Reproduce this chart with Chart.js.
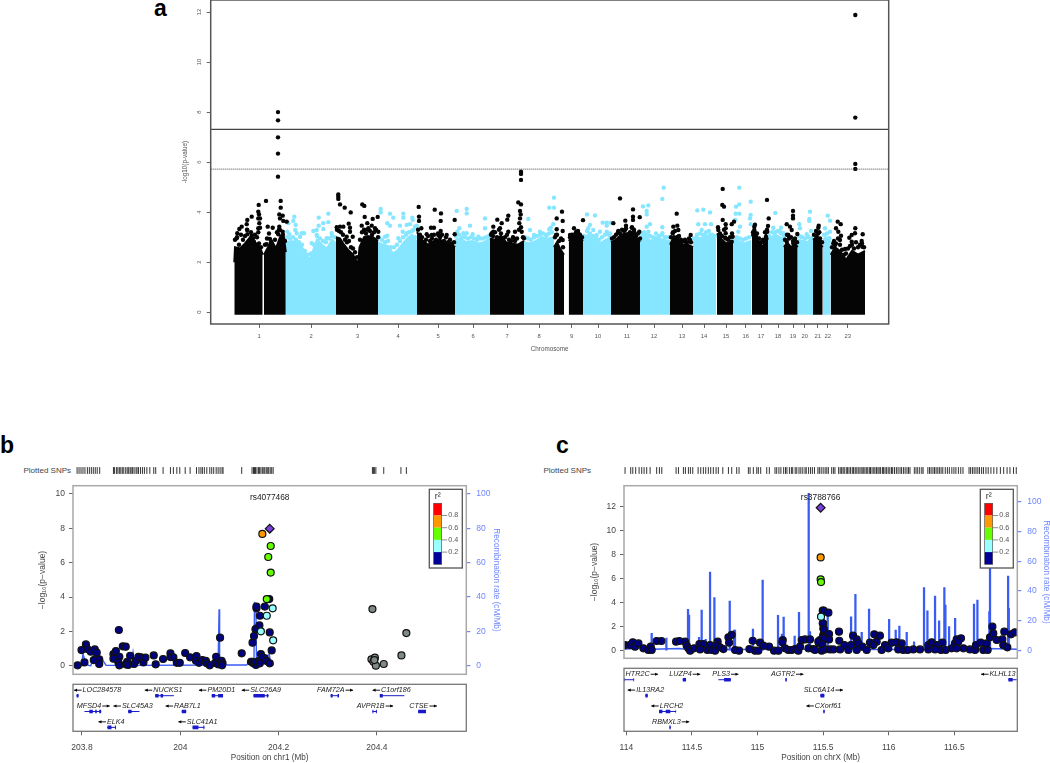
<!DOCTYPE html>
<html>
<head>
<meta charset="utf-8">
<title>Manhattan and regional association plots</title>
<script src="https://cdn.jsdelivr.net/npm/chart.js@4"></script>
<style>
html, body { margin: 0; padding: 0; background: #fff; }
body { position: relative; width: 1050px; height: 763px; overflow: hidden; font-family: "Liberation Sans", Arial, sans-serif; }
canvas { position: absolute; left: 0; top: 0; }
.letter { position: absolute; font-weight: bold; font-size: 23px; line-height: 23px; color: #000; }
.rug { position: absolute; font-size: 8px; line-height: 10px; color: #444; white-space: nowrap; }
</style>
</head>
<body>
<div class="letter" style="left:154px;top:-3px">a</div>
<div class="letter" style="left:0px;top:434px">b</div>
<div class="letter" style="left:556px;top:434px">c</div>
<div class="rug" style="right:979px;top:466px">Plotted SNPs</div>
<div class="rug" style="right:459px;top:466px">Plotted SNPs</div>
<script>
// ---- panel a: genome wide scan. x is the position along the genome axis
const chrLabels = ['1','2','3','4','5','6','7','8','9','10','11','12','13','14','15','16','17','18','19','20','21','22','23'];
const chrTicks = [49,101,147.7,188,228,263,297,329,361.7,388,417,444,472,494,516,535.7,551,568,583,594.7,607.7,617.7,637.7];
const manhattanYTicks = [0,2,4,6,8,10,12];
const genomeSigLine = 7.31;
const suggestiveLine = 5.72;

// top edge of the solid mass of SNPs, one block per chromosome (null breaks the block)
const blackEnvX = [24.3,25,30,35,40,45,50,52.7,53,54,58,62,66,70,74,75.8,76,
  126,130,134,138,143,147,148,149.5,154,158,163,168,168,
  207,212,218,224,230,236,241,245,245,
  280,285,291,296,302,308,314,314,
  344,347,350,354,354,
  358.7,362,367,373,373,
  401,406,411,416,421,426,430,430,
  460,464,468,473,478,483,483,
  507,511,516,520,523,523,
  542,545,549,553,556,558,558,
  574,577,581,585,587.7,587.7,
  603,606,610,612.7,612.7,
  620.7,625,630,636,642,648,655];
const blackEnvY = [2.0,2.6,2.55,2.75,3.0,2.8,2.6,2.3,null,2.3,2.6,2.85,2.55,3.0,3.0,2.4,null,
  3.0,2.95,2.7,2.5,2.3,2.0,1.9,2.6,3.0,3.05,3.0,2.85,null,
  3.2,2.9,2.7,2.85,2.9,2.8,2.75,2.6,null,
  2.95,2.9,3.05,2.8,2.75,2.7,2.85,null,
  2.6,2.8,2.55,2.3,null,
  2.85,3.0,3.1,2.85,null,
  2.8,2.9,3.1,3.15,3.2,3.0,2.8,null,
  2.7,3.05,2.9,2.7,2.7,2.6,null,
  3.15,2.95,2.75,2.8,2.75,null,
  3.05,3.3,2.8,2.6,3.1,2.9,null,
  2.6,2.8,2.6,2.75,2.6,null,
  2.9,3.0,2.75,2.6,null,
  2.3,2.6,2.45,2.1,2.45,2.3,2.45];
const lightEnvX = [76,82,87,92,96,100,103,107,112,117,122,126,126,
  168,173,178,183,188,192,197,202,207,207,
  245,250,256,262,268,274,280,280,
  314,320,326,332,338,344,344,
  373,378,384,390,396,401,401,
  430,435,441,447,453,460,460,
  483,488,494,500,506,506,
  523,528,534,541,541,
  558,563,568,574,574,
  588,593,598,603,603,
  613,616,620.7];
const lightEnvY = [2.8,2.85,2.75,2.6,2.3,2.1,2.45,2.9,2.7,2.55,2.9,2.75,null,
  2.8,2.7,2.65,2.35,2.5,2.7,2.95,3.1,2.8,null,
  2.9,2.95,2.8,2.85,2.75,2.8,2.95,null,
  2.8,2.75,2.85,3.0,2.95,3.0,null,
  2.9,3.1,2.9,2.75,2.9,3.0,null,
  3.0,3.05,2.85,3.0,2.9,2.85,null,
  2.8,2.95,3.0,3.1,2.9,null,
  2.7,2.85,2.75,2.85,null,
  2.9,3.05,3.05,2.9,null,
  2.9,2.85,2.8,3.1,null,
  2.9,3.0,2.8];

// SNPs on the rough top of the mass
const blackFringeX = [25,27,29,31,33,35,37,39,41,43,45,47,49,51,55,57,59,61,63,65,67,69,71,73,75,
  127,129,131,133,135,137,139,141,143,145,147,150,152,154,156,158,160,162,164,166,168,
  208,210,212,214,216,218,220,222,224,226,228,230,232,234,236,238,240,242,244,
  281,283,285,287,289,291,293,295,297,299,301,303,305,307,309,311,313,
  345,347,349,351,353,360,362,364,366,368,370,372,
  402,404,406,408,410,412,414,416,418,420,422,424,426,428,430,
  461,463,465,467,469,471,473,475,477,479,481,
  508,510,512,514,516,518,520,522,
  543,545,547,549,551,553,555,557,
  575,577,579,581,583,585,587,
  604,606,608,610,612,
  622,624,626,628,630,632,634,636,638,640,642,644,646,648,650,652,654];
const blackFringeY = [2.9,3.0,2.7,3.1,2.9,3.05,3.3,2.8,3.2,2.95,3.1,3.0,2.75,2.6,2.7,2.95,3.15,2.8,2.6,2.9,3.2,3.3,2.9,3.1,2.85,
  3.3,3.25,3.2,3.1,2.9,2.8,2.85,2.6,2.55,2.4,2.2,2.9,3.2,3.3,3.15,3.3,3.25,3.1,3.2,3.3,3.0,
  3.3,3.1,3.0,2.8,2.9,3.05,2.85,2.95,3.1,2.9,3.15,3.0,3.1,2.85,3.0,2.8,2.9,2.75,2.8,
  3.1,3.05,3.2,3.0,3.3,3.15,2.95,3.0,3.1,2.9,2.85,3.0,2.85,2.95,3.3,3.4,3.0,
  3.0,3.1,2.85,2.95,2.6,3.0,3.1,3.05,3.2,3.25,3.1,3.0,
  2.95,3.0,3.1,3.2,3.15,3.3,3.25,3.35,3.1,3.2,3.4,3.3,3.05,3.15,2.95,
  3.0,3.2,3.25,3.0,3.05,2.9,2.85,2.9,2.8,2.95,2.8,
  3.4,3.15,3.05,3.3,2.95,2.9,3.0,3.15,
  3.2,3.5,3.15,2.95,2.8,2.9,3.2,3.3,
  2.9,3.1,2.95,3.0,2.85,2.95,2.8,
  3.1,3.25,3.15,2.95,2.8,
  2.6,2.85,2.75,2.95,2.7,2.5,2.3,2.35,2.55,2.65,2.7,2.55,2.8,2.6,2.7,2.75,2.6];
const lightFringeX = [77,80,83,86,89,92,95,98,101,104,107,110,113,116,119,122,125,
  169,172,175,178,181,184,187,190,193,196,199,202,205,
  246,249,252,255,258,261,264,267,270,273,276,279,
  315,318,321,324,327,330,333,336,339,342,
  374,377,380,383,386,389,392,395,398,400,
  431,434,437,440,443,446,449,452,455,458,
  484,487,490,493,496,499,502,505,
  524,527,530,533,536,539,
  559,562,565,568,571,574,
  589,592,595,598,601,
  614,617,619];
const lightFringeY = [3.0,2.95,3.0,2.9,2.8,2.7,2.45,2.3,2.35,2.7,3.05,2.95,2.85,2.8,2.95,3.05,3.0,
  3.0,2.9,2.8,2.85,2.6,2.6,2.7,2.85,3.0,3.1,3.2,3.25,3.0,
  3.05,3.1,3.0,3.0,2.95,3.0,2.95,2.9,2.95,2.95,3.0,3.05,
  3.0,2.95,2.9,3.0,3.05,3.1,3.15,3.1,3.15,3.2,
  3.05,3.25,3.15,3.05,2.95,2.9,3.0,3.1,3.15,3.15,
  3.15,3.2,3.1,3.05,3.0,3.15,3.05,3.1,3.0,3.0,
  2.95,3.1,3.15,3.1,3.2,3.25,3.1,3.05,
  2.85,3.0,2.95,2.9,2.95,3.0,
  3.05,3.2,3.2,3.25,3.15,3.05,
  3.05,3.0,2.95,3.0,3.25,
  3.1,3.15,2.95];

// single SNPs standing clear of the mass
const blackSnpX = [68,68,68,68,68,56,70.7,48.7,70.7,48.3,49,69.3,72.7,41.7,37.3,48.3,50,70,73.3,76.7,36.7,49.3,57.7,31.7,62.7,69.3,48.3,50,29.3,37.3,48.3,70,68.3,27.3,37.3,72.7,26.7,41.7,60,56.7,44,71.7,
  128.3,128.3,128.3,130,134.7,140.7,152.3,154.3,154.7,167.7,162.7,157.3,151.7,161.7,138.7,130,126.7,133.3,140,140,155,158.3,165,168.3,142.7,136.7,
  208.7,209,209,224.7,231,230.7,224,221,230.7,211.3,216.7,221.7,228.3,236.7,244.7,244.7,
  311,311,311,308.3,311,298.3,297.3,310,310.7,310,309.3,287.3,291.7,283.3,290,281.7,298.3,305,311.7,314,290,303.3,283.3,
  352,346.7,352.7,346.7,352.7,346,352.7,373,364,366.7,360,370,368.3,363.3,
  410,423,423,423,415.3,429.7,403.3,416,421.7,408.3,424,429.3,415,420,425,
  466.7,463.3,467.3,462.7,468.3,480.7,480,475,468.3,
  512.7,512.3,514,512.7,521.7,524,515.7,515.7,515.7,522.7,508.3,510,515,521.7,
  557,558.7,558,544.3,544.3,557.3,556,543.3,553.3,546.7,
  583,583,583,576.7,580,581.7,587.3,578.3,585,576.7,583.3,
  608.7,608.3,609.3,606.7,610,
  645.3,645.3,645.3,645.3,627.7,630.7,626,628.3,631,630,625,645.3,645,652.7,641.7,639.3,651.7,652.3,641.7,623.3,635];
const blackSnpY = [8.0,7.67,6.99,6.34,5.42,4.45,4.45,4.29,4.18,4.02,3.91,3.91,3.86,3.82,3.69,3.75,3.75,3.75,3.65,3.62,3.52,3.56,3.42,3.42,3.38,3.42,3.36,3.38,3.33,3.29,3.2,3.29,3.12,3.16,3.12,3.22,2.96,3.06,2.93,2.72,2.82,3.02,
  4.71,4.62,4.53,4.31,4.18,3.99,4.31,4.25,3.81,3.81,3.73,3.56,3.46,3.46,3.54,3.42,3.4,3.42,3.38,3.22,3.29,3.36,3.36,3.22,3.02,3.02,
  4.21,3.82,3.65,4.1,3.95,3.65,3.38,3.38,3.25,3.36,3.12,3.09,3.09,3.09,3.69,3.12,
  5.62,5.53,5.29,4.39,4.31,3.86,3.7,4.05,3.91,3.75,3.56,3.7,3.56,3.42,3.36,3.16,3.22,3.22,3.22,2.96,2.96,2.98,3.22,
  4.02,3.75,3.65,3.32,3.25,3.09,2.89,3.68,3.36,3.22,3.09,3.02,3.16,3.09,
  4.55,4.11,3.82,3.69,3.66,3.8,3.56,3.46,3.38,3.25,3.22,3.22,3.29,3.09,3.09,
  3.94,3.42,3.46,3.16,3.29,3.09,2.89,2.82,3.02,
  4.93,4.29,4.22,3.69,3.52,3.62,3.52,3.36,3.16,3.02,3.29,3.09,2.98,2.82,
  4.49,3.75,3.45,3.42,3.29,3.22,3.02,3.09,2.82,2.89,
  4.05,3.86,3.75,3.52,3.42,3.29,3.13,3.09,2.89,2.82,2.76,
  3.46,3.38,3.2,3.02,2.82,
  11.88,7.78,5.93,5.73,3.62,3.52,3.36,3.22,3.06,2.89,2.69,3.36,3.16,3.12,3.09,2.98,2.85,2.62,2.82,2.76,2.53];
const lightSnpX = [84.3,83.3,85.7,78.3,85.3,77.3,79.3,86.7,91.7,94,90,118.3,108.7,118.3,113.3,108.7,106.7,113.3,103.3,121.7,106.7,116.7,101.7,
  170.7,170.7,180,183.3,193.3,193.3,202.3,202.7,177.3,180,190,196.7,200,205,206.7,175,177.3,192.7,196.7,188.3,203.3,
  246.7,256.7,256.7,260,249.3,247.3,253.3,256.7,262.7,268.3,275,275,
  318.3,320,344,339.3,344,343.3,340.7,339.3,330,324,336.7,
  377,385,392.7,396.7,400.7,380,396.7,378.3,383.3,390,396.7,386.7,399.3,
  453.7,452.3,433,438.3,436.7,436.7,440,436.7,452.3,438.3,452.3,445,433.3,
  487.3,493.3,500,488.3,495,501,491.7,486.7,500,495,
  529.3,529.3,526,529.3,525.7,525.3,530,528.3,526.7,540.7,540.7,540,540.7,
  565.3,563.3,571,570,565,573.3,
  600,599.3,599.3,589.3,590,596.7,591.7,598.3,
  617.7,620,615,620,619.3];
const lightSnpY = [3.82,3.65,3.49,3.56,3.29,3.22,3.12,3.16,3.16,3.16,3.02,3.94,3.78,3.6,3.56,3.46,3.29,3.33,3.25,3.16,3.09,2.96,2.76,
  4.13,3.99,3.94,3.78,3.94,3.78,3.78,3.69,3.56,3.46,3.46,3.49,3.52,3.42,3.46,3.02,3.06,3.22,3.16,2.96,3.29,
  4.05,4.13,3.95,3.46,3.36,3.22,3.16,3.16,3.12,3.02,3.75,3.36,
  3.73,3.29,4.58,4.18,4.18,3.52,3.38,3.32,3.22,3.09,3.09,
  3.91,3.87,3.58,3.58,3.58,3.49,3.46,3.36,3.29,3.22,3.22,3.09,3.09,
  4.98,4.53,4.23,4.27,4.05,3.91,3.52,3.42,3.4,3.22,3.16,2.96,3.09,
  4.07,4.1,3.99,3.52,3.52,3.52,3.29,3.02,3.09,3.09,
  4.98,4.31,4.22,3.94,3.94,3.69,3.42,3.22,2.89,4.42,3.89,3.75,3.52,
  3.97,3.38,3.38,3.22,3.09,3.16,
  4.02,3.73,3.65,3.52,3.36,3.12,3.02,3.02,
  3.86,3.66,3.36,3.22,2.96];

// ---- panel b: chr1 region
const bLead = 'rs4077468';
const bNavyX = [203.791,203.799,203.805,203.808,203.811,203.818,203.826,203.824,203.830,203.835,203.835,203.864,203.864,203.869,203.875,203.876,203.874,203.876,203.883,203.889,203.892,203.889,203.898,203.894,203.906,203.910,203.915,203.920,203.925,203.929,203.946,203.950,203.965,203.980,203.980,203.986,203.993,203.999,204.010,204.020,204.033,204.032,204.038,204.045,204.052,204.054,204.060,204.071,204.073,204.077,204.081,204.084,204.086,204.085,204.125,
  204.144,204.146,204.147,204.150,204.153,204.155,204.161,204.149,204.154,204.155,204.161,204.164,204.168,204.170,204.172,204.166,204.162,204.176,204.182,204.155,204.155,204.162,204.172,204.181,204.182,204.186];
const bNavyY = [0.02,0.91,0.19,1.24,0.97,0.82,0.95,0.33,0.76,0.37,0.1,0.68,0.41,0.85,2.08,0.52,0.19,0.02,1.13,1.11,0.23,0.08,0.58,0.04,0.1,0.29,0.52,0.49,0.19,0.47,0.6,0.08,0.39,0.72,0.5,0.49,0.17,0.17,0.74,0.49,0.56,0.29,0.17,0.33,0.29,0.14,0.02,0.16,0.52,0.08,1.63,0.29,0.14,0.02,0.72,
  0.23,0.23,1.34,1.73,2.12,2.16,2.35,0.14,0.04,0.23,0.29,0.68,0.47,0.33,0.43,0.52,0.14,0.27,0.14,3.34,3.44,2.91,3.44,3.88,1.94,0.89];
const bLightX = [204.164,204.176,204.188,204.189];
const bLightY = [2.0,2.91,3.34,1.48];
const bGreenX = [204.176,204.184,204.179,204.184];
const bGreenY = [3.88,5.42,6.33,6.97];
const bOrangeX = [204.167];
const bOrangeY = [7.67];
const bLeadX = [204.182];
const bLeadY = [7.98];
const bGreyX = [204.391,204.389,204.396,204.393,204.398,204.414,204.450,204.460,204.395];
const bGreyY = [3.3,0.37,0.47,0.23,0,0.1,0.6,1.9,0.33];
const bRecombX = [203.788,203.799,203.802,203.807,203.813,203.818,203.824,203.830,203.837,203.842,203.849,203.901,203.904,203.908,204.074,204.077,204.079,204.080,204.087,204.135,204.142,204.150,204.151,204.154,204.155,204.169,204.181,204.184,204.190];
const bRecombY = [0,0,6.8,2.3,0.2,0,6.8,4.3,3.3,3.3,0.2,0.2,7.6,0.2,0.4,1.4,32.8,1.4,0.4,0.4,3.3,3.3,36.7,36.3,3.3,3.7,6.8,1.4,0.4];
const bRug = [203.790,203.794,203.798,203.802,203.806,203.811,203.815,203.819,203.823,203.827,203.831,203.836,203.864,203.866,203.870,203.873,203.876,203.879,203.882,203.885,203.889,203.892,203.895,203.898,203.900,203.903,203.906,203.910,203.912,203.915,203.919,203.923,203.927,203.932,203.938,203.946,203.950,203.965,203.980,203.986,203.993,203.999,204.010,204.020,204.033,204.038,204.042,204.045,204.049,204.054,204.060,204.064,204.068,204.073,204.077,204.081,204.085,204.087,204.125,204.146,204.149,204.151,204.153,204.156,204.159,204.161,204.164,204.167,204.170,204.172,204.175,204.178,204.180,204.183,204.186,204.189,204.391,204.393,204.395,204.398,204.414,204.449,204.460];
const bXTicks = [203.8,204,204.2,204.4];
const bXLabels = ['203.8','204','204.2','204.4'];
const bYTicks = [0,2,4,6,8,10];
const recombTicks = [0,20,40,60,80,100];

const bGeneNames = ['LOC284578','NUCKS1','PM20D1','SLC26A9','FAM72A','C1orf186','MFSD4','SLC45A3','RAB7L1','AVPR1B','CTSE','ELK4','SLC41A1'];
const bGeneRows = [0,0,0,0,0,0,1,1,1,1,1,2,2];
const bGeneStart = [203.789,203.949,204.064,204.149,204.306,204.406,203.805,203.894,204.003,204.391,204.484,203.851,204.025];
const bGeneEnd = [203.793,203.987,204.087,204.180,204.323,204.456,203.839,203.917,204.012,204.400,204.500,203.869,204.049];
const bGeneStrand = [-1,-1,-1,-1,1,-1,1,-1,-1,1,1,-1,-1];
const bGeneLabelAt = [203.832,203.966,204.075,204.165,204.315,204.430,203.823,203.904,204.006,204.396,204.494,203.860,204.036];
const bExonStart = [203.789,203.949,203.960,204.064,204.077,204.149,204.176,204.306,204.320,204.406,203.815,203.827,203.835,203.894,204.003,204.391,204.398,204.484,203.852,203.867,204.025,204.047];
const bExonEnd = [203.793,203.956,203.965,204.071,204.087,204.172,204.179,204.310,204.323,204.412,203.822,203.830,203.839,203.901,204.012,204.393,204.400,204.500,203.860,203.869,204.037,204.049];
const bExonRows = [0,0,0,0,0,0,0,0,0,0,1,1,1,1,1,1,1,1,2,2,2,2];

// ---- panel c: chrX region
const cLead = 'rs3788766';
const cNavyX = [113.990,114.028,114.049,114.066,114.092,114.130,114.168,114.186,114.193,114.231,114.267,114.379,114.404,114.447,114.460,114.473,114.486,114.516,114.557,114.587,114.562,114.618,114.638,114.651,114.676,114.696,114.689,114.714,114.740,114.778,114.803,114.783,114.829,114.859,114.938,114.963,114.981,115.006,115.019,115.044,115.088,115.126,115.159,115.192,115.189,115.210,115.235,115.260,115.286,115.311,115.324,115.337,115.362,115.400,115.388,115.426,115.469,115.476,115.489,115.497,115.497,115.502,115.502,
  115.438,115.463,115.504,115.540,115.499,115.504,115.545,115.499,115.509,115.545,115.494,115.514,115.552,115.578,115.621,115.623,115.629,115.662,115.692,115.712,115.728,115.756,115.768,115.756,115.799,115.832,115.857,115.890,115.933,115.908,115.883,115.946,115.972,115.997,116.022,116.060,116.099,116.073,116.111,116.144,116.187,116.238,116.302,116.302,116.327,116.365,116.409,116.353,116.398,116.434,116.480,116.505,116.518,116.551,116.530,116.518,116.569,116.619,116.658,116.665,116.701,116.721,116.754,116.746,116.772,116.790,116.797,116.823,116.866,116.881,116.873,116.904,116.932,116.962];
const cNavyY = [0.47,0.47,0.70,0.34,0.61,0.20,0.06,0.34,0.06,0.81,0.81,0.75,0.81,0.75,0.42,0.20,0,0.20,0.56,0.56,0.11,0.06,0.47,0.06,0,0.75,0.47,0.28,0.14,1.11,1.31,0.67,0.06,0,0.14,0.83,0,0,0.67,0.42,0.34,0,0,0.89,0.70,0.20,0.06,0.06,0.14,0,0.34,0.89,0.94,0.94,0.20,0.14,0.61,0.89,0,2.28,3.33,1.86,1.31,
  0.06,0.75,3.33,3.16,2.28,1.78,1.39,1.17,1.03,0.94,0.53,0.11,0.11,0.11,1.58,0.83,0.11,0.47,0.06,0.47,1.25,0.94,0.61,0.06,0.34,0.06,0.67,1.36,1.25,0.75,0.47,0.06,0.47,0.20,0.67,0.70,0.61,0.11,0.06,0.06,0.11,0.11,0.11,0.47,0.70,0.47,0.67,0.11,0.06,0.06,0.20,0.61,0.94,1.03,0.75,0.20,0.20,0.11,0.06,0.47,0.67,0.06,0.06,0.61,1.11,2.0,1.44,0.89,0.94,1.58,0.47,0.28,1.36,1.53];
const cLightX = [115.484];
const cLightY = [2.83];
const cGreenX = [115.481,115.484];
const cGreenY = [5.93,5.71];
const cOrangeX = [115.481];
const cOrangeY = [7.76];
const cLeadX = [115.481];
const cLeadY = [11.89];
const cRecombBaseX = [113.985,114.1,114.2,114.4,114.5,114.8,115.2,115.6,116,116.5,116.75,116.98];
const cRecombBaseY = [1,2,1,1.5,0.5,0.8,1,1,0.8,1,1.5,1];
const cSpikeX = [114.193,114.305,114.470,114.478,114.574,114.554,114.605,114.638,114.671,114.701,114.788,114.821,114.828,114.965,115.039,115.156,115.199,115.186,115.283,115.316,115.390,115.400,115.535,115.713,115.746,115.794,115.850,116.003,116.053,116.081,116.137,116.193,116.269,116.295,116.353,116.384,116.424,116.432,116.460,116.506,116.650,116.676,116.767,116.772,116.910,116.915];
const cSpikeY = [11.6,8.5,27.7,23.9,27.3,8.9,7.6,52.8,35.6,8.3,33.3,13.9,13.9,14.5,47.4,23.7,22.6,11.2,9.8,25.7,105.6,12.8,25,22.8,37.8,12.3,28,21,13.9,16.6,12.3,6,42.3,26.8,36.7,20.1,42.3,30.6,16.1,21.7,31.3,34,26.2,90,50.1,28.4];
const cRug = [113.990,114.033,114.049,114.071,114.097,114.117,114.135,114.155,114.181,114.231,114.252,114.270,114.379,114.397,114.435,114.450,114.473,114.488,114.506,114.547,114.567,114.587,114.605,114.625,114.643,114.663,114.684,114.701,114.735,114.778,114.803,114.841,114.859,114.930,114.943,114.968,114.994,115.006,115.024,115.070,115.090,
  115.133,115.146,115.163,115.178,115.199,115.213,115.224,115.243,115.258,115.268,115.287,115.299,115.316,115.330,115.345,115.362,115.371,115.389,115.404,115.418,115.434,115.460,115.471,115.485,115.500,115.515,115.528,115.540,115.565,115.578,115.590,
  115.618,115.630,115.641,115.652,115.661,115.676,115.685,115.697,115.708,115.722,115.731,115.744,115.752,115.766,115.774,115.788,115.797,115.806,115.818,115.829,115.840,115.852,115.861,115.873,115.886,115.895,115.907,115.918,115.927,115.938,115.952,115.961,115.972,115.984,115.996,116.008,116.021,116.030,116.044,116.058,116.071,116.086,116.098,116.112,116.125,116.139,116.151,116.162,
  116.195,116.208,116.221,116.236,116.252,116.262,116.298,116.311,116.323,116.337,116.349,116.361,116.374,116.386,116.399,116.412,116.431,116.447,116.462,116.481,116.497,116.512,116.531,116.549,116.566,
  116.612,116.624,116.638,116.651,116.665,116.679,116.692,116.708,116.722,116.741,116.758,116.779,116.801,116.824,116.851,116.876,116.902,116.924,116.951,116.972];
const cXTicks = [114,114.5,115,115.5,116,116.5];
const cXLabels = ['114','114.5','115','115.5','116','116.5'];
const cYTicks = [0,2,4,6,8,10,12];

const cGeneNames = ['HTR2C','LUZP4','PLS3','AGTR2','KLHL13','IL13RA2','SLC6A14','LRCH2','CXorf61','RBMXL3'];
const cGeneRows = [0,0,0,0,0,1,1,2,2,3];
const cGeneStart = [113.985,114.430,114.701,115.212,116.912,114.145,115.479,114.249,115.501,114.328];
const cGeneEnd = [114.059,114.455,114.796,115.223,116.976,114.163,115.509,114.379,115.512,114.338];
const cGeneStrand = [1,1,1,1,-1,-1,1,-1,-1,1];
const cGeneLabelAt = [114.118,114.445,114.755,115.226,116.835,114.149,115.501,114.312,115.505,114.337];
const cExonStart = [113.985,114.054,114.430,114.701,114.745,115.212,116.912,116.972,114.145,115.479,114.249,114.300,114.375,115.501,114.328];
const cExonEnd = [113.990,114.059,114.455,114.706,114.796,115.223,116.945,116.976,114.163,115.509,114.275,114.335,114.379,115.512,114.338];
const cExonRows = [0,0,0,0,0,0,0,0,1,1,2,2,2,2,3];

const r2Colors = ['#ff0000','#ff9900','#66ff00','#99ffff','#000099'];
const r2Labels = ['0.8','0.6','0.4','0.2'];

Chart.defaults.font.family = '"Liberation Sans", Arial, sans-serif';
const CW = 1070, CH = 763;
const BLUE = '#3a5cf5', AXISBLUE = '#6f86ff';

function pts(xs, ys) {
    return xs.map((x, i) => ({ x: x, y: ys[i] }));
}

// pairs (start,end) turned into one broken line
function segments(starts, ends, rows) {
    let out = [];
    starts.forEach((s, i) => {
        out.push({ x: s, y: rows[i] }, { x: ends[i], y: rows[i] }, { x: ends[i], y: null });
    });
    return out;
}

const framePlugin = {
    id: 'frame',
    afterDraw(chart, args, opts) {
        const a = chart.chartArea, ctx = chart.ctx;
        ctx.save();
        ctx.strokeStyle = opts.color;
        ctx.lineWidth = opts.width;
        ctx.strokeRect(a.left, a.top, a.right - a.left, a.bottom - a.top);
        ctx.restore();
    }
};

const locusPlugin = {
    id: 'locus',
    afterDatasetsDraw(chart, args, opts) {
        if (!opts.lead) return;
        const a = chart.chartArea, ctx = chart.ctx;
        ctx.save();
        ctx.fillStyle = '#222';
        ctx.font = '8.4px "Liberation Sans"';
        ctx.textAlign = 'center';
        ctx.textBaseline = 'middle';
        ctx.fillText(opts.lead, chart.scales.x.getPixelForValue(opts.leadX), a.top + 12.3);
        // r2 key
        const x0 = a.right - 37, y0 = a.top + 3.6, w = 33, h = 78.7;
        ctx.fillStyle = '#fff';
        ctx.fillRect(x0, y0, w, h);
        ctx.strokeStyle = '#555';
        ctx.lineWidth = 1.3;
        ctx.strokeRect(x0, y0, w, h);
        const bx = x0 + 4.4, bw = 8, by = y0 + 14, bh = 12.2;
        r2Colors.forEach((c, i) => {
            ctx.fillStyle = c;
            ctx.fillRect(bx, by + i * bh, bw, bh);
        });
        ctx.strokeStyle = '#444';
        ctx.lineWidth = 0.6;
        ctx.strokeRect(bx, by, bw, bh * r2Colors.length);
        ctx.fillStyle = '#555';
        ctx.font = '7.2px "Liberation Sans"';
        ctx.textAlign = 'left';
        r2Labels.forEach((t, i) => {
            const y = by + (i + 1) * bh;
            ctx.beginPath();
            ctx.moveTo(bx + bw, y);
            ctx.lineTo(bx + bw + 5.5, y);
            ctx.stroke();
            ctx.fillText(t, bx + bw + 6.5, y);
        });
        ctx.fillStyle = '#333';
        ctx.font = '9px "Liberation Sans"';
        ctx.textAlign = 'center';
        ctx.fillText('r²', bx + bw / 2, y0 + 7.5);
        ctx.restore();
    }
};

const genePlugin = {
    id: 'geneNames',
    afterDatasetsDraw(chart, args, opts) {
        if (!opts.names) return;
        const ctx = chart.ctx;
        ctx.save();
        ctx.font = 'italic 7.2px "Liberation Sans"';
        ctx.textBaseline = 'middle';
        ctx.textAlign = 'left';
        opts.names.forEach((name, i) => {
            const cx = chart.scales.x.getPixelForValue(opts.at[i]);
            const y = chart.scales.y.getPixelForValue(opts.rows[i]) - 5.5;
            const tw = ctx.measureText(name).width, arrow = 7.5;
            const left = cx - (tw + arrow + 1) / 2;
            const textX = opts.strand[i] < 0 ? left + arrow + 1 : left;
            ctx.fillStyle = '#222';
            ctx.fillText(name, textX, y);
            const ax0 = opts.strand[i] < 0 ? left + arrow : left + tw + 1;
            const ax1 = opts.strand[i] < 0 ? left : left + tw + 1 + arrow;
            const dir = opts.strand[i] < 0 ? 1 : -1;
            ctx.strokeStyle = '#000';
            ctx.lineWidth = 0.9;
            ctx.beginPath();
            ctx.moveTo(ax0, y);
            ctx.lineTo(ax1, y);
            ctx.stroke();
            ctx.fillStyle = '#000';
            ctx.beginPath();
            ctx.moveTo(ax1, y);
            ctx.lineTo(ax1 + dir * 3, y - 1.6);
            ctx.lineTo(ax1 + dir * 3, y + 1.6);
            ctx.closePath();
            ctx.fill();
        });
        ctx.restore();
    }
};

function tickAxis(extra) {
    return Object.assign({
        offset: false,
        border: { display: false },
        grid: { drawOnChartArea: false, drawTicks: true, tickLength: 4, tickColor: '#666', lineWidth: 1 }
    }, extra);
}

function addChart(type, datasets, scales, box, plugins) {
    const canvas = document.createElement('canvas');
    canvas.width = CW;
    canvas.height = CH;
    canvas.style.width = CW + 'px';
    canvas.style.height = CH + 'px';
    document.body.appendChild(canvas);
    return new Chart(canvas, {
        type: type,
        data: { datasets: datasets },
        options: {
            responsive: false,
            animation: false,
            events: [],
            layout: { autoPadding: false, padding: {
                left: box.left - (box.leftAxis || 0),
                top: box.top,
                right: CW - box.right - (box.rightAxis || 0),
                bottom: CH - box.bottom - (box.bottomAxis || 0)
            } },
            scales: scales,
            plugins: Object.assign({ legend: { display: false }, tooltip: { enabled: false }, frame: { color: '#a8a8a8', width: 1.5 } }, plugins || {})
        },
        plugins: [framePlugin, locusPlugin, genePlugin]
    });
}

// axes keep a set size, so that the plot frames land where they should
function fixedWidth(w) { return s => { s.width = w; s.paddingTop = 0; s.paddingBottom = 0; }; }
function fixedHeight(h) { return s => { s.height = h; s.paddingLeft = 0; s.paddingRight = 0; }; }
function setTicks(values) { return s => { s.ticks = values.map(v => ({ value: v })); }; }

// ---- panel a
(function () {
    const dot = (xs, ys, c) => ({ type: 'scatter', data: pts(xs, ys), backgroundColor: c, borderWidth: 0, pointRadius: 2.2 });
    const mass = (xs, ys, c) => ({ type: 'line', data: pts(xs, ys), borderColor: c, backgroundColor: c, borderWidth: 2, pointRadius: 0, tension: 0, spanGaps: false, fill: { value: -0.1 } });
    const hline = (y, dash) => ({ type: 'line', data: [{ x: 0.7, y: y }, { x: 678.7, y: y }], borderColor: '#444', borderWidth: dash ? 1 : 1.3, borderDash: dash || [], pointRadius: 0 });
    const lab = { size: 5.8 };
    addChart('scatter', [
        hline(genomeSigLine), hline(suggestiveLine, [1, 1]),
        dot(blackSnpX, blackSnpY, '#050505'),
        dot(blackFringeX, blackFringeY, '#050505'),
        mass(blackEnvX, blackEnvY, '#050505'),
        dot(lightSnpX, lightSnpY, '#87e6ff'),
        dot(lightFringeX, lightFringeY, '#87e6ff'),
        mass(lightEnvX, lightEnvY, '#87e6ff')
    ], {
        x: tickAxis({
            type: 'linear', min: 0.7, max: 678.7,
            afterBuildTicks: setTicks(chrTicks),
            afterFit: fixedHeight(29.2),
            ticks: { autoSkip: false, maxRotation: 0, padding: 5, color: '#555', font: lab, callback: (v, i) => chrLabels[i] },
            title: { display: true, text: 'Chromosome', color: '#555', font: { size: 6.3 }, padding: 0 }
        }),
        y: tickAxis({
            type: 'linear', min: -0.47, max: 12.48,
            afterBuildTicks: setTicks(manhattanYTicks),
            afterFit: fixedWidth(28.9),
            ticks: { minRotation: 90, maxRotation: 90, crossAlign: 'center', padding: 4, color: '#555', font: lab, callback: v => String(v) },
            title: { display: true, text: '-log10(p-value)', color: '#555', font: { size: 6.3 }, padding: 0 }
        })
    }, { left: 210.7, top: 0, right: 888.7, bottom: 324, leftAxis: 28.9, bottomAxis: 29.2 }, { frame: { color: '#555', width: 1.5 } });
})();

// ---- panels b and c are built the same way
function locusPanel(p) {
    const snp = (xs, ys, c, extra) => Object.assign({ type: 'scatter', data: pts(xs, ys), backgroundColor: c, borderColor: '#111', borderWidth: 1.2, pointRadius: 3.5 }, extra || {});
    addChart('scatter', [{
        type: 'scatter', data: p.rug.map(x => ({ x: x, y: 0.5 })), pointStyle: 'line', rotation: 90, pointRadius: 3.4, borderColor: '#333', borderWidth: 1
    }], {
        x: { type: 'linear', display: false, min: p.xMin, max: p.xMax },
        y: { type: 'linear', display: false, min: 0, max: 1 }
    }, { left: p.left, top: 467, right: p.right, bottom: 474 }, { frame: { color: 'rgba(0,0,0,0)', width: 0 } });

    let sets = [snp(p.leadX, p.leadY, '#7b3fe0', { pointStyle: 'rectRot', pointRadius: 4.4 })];
    sets.push(snp(p.orangeX, p.orangeY, r2Colors[1]));
    sets.push(snp(p.greenX, p.greenY, r2Colors[2]));
    sets.push(snp(p.lightX, p.lightY, r2Colors[3]));
    if (p.greyX) sets.push(snp(p.greyX, p.greyY, '#7f8a88'));
    sets.push(snp(p.navyX, p.navyY, '#000080'));
    sets.push({ type: 'line', yAxisID: 'y2', data: pts(p.recombX, p.recombY), borderColor: BLUE, borderWidth: 1.4, pointRadius: 0, tension: 0 });
    if (p.spikeX) sets.push({ type: 'bar', yAxisID: 'y2', data: pts(p.spikeX, p.spikeY), backgroundColor: BLUE, barThickness: 1.6 });

    addChart('scatter', sets, {
        x: { type: 'linear', display: false, min: p.xMin, max: p.xMax, offset: false },
        y: tickAxis({
            type: 'linear', min: p.yMin, max: p.yMax,
            afterBuildTicks: setTicks(p.yTicks),
            afterFit: fixedWidth(p.leftAxis),
            ticks: { padding: 4, color: '#444', font: { size: 8.5 }, callback: v => String(v) },
            title: { display: true, text: '\u2212log\u2081\u2080(p\u2212value)', color: '#444', font: { size: 8.5 }, padding: 0 }
        }),
        y2: {
            type: 'linear', position: 'right', min: p.rMin, max: p.rMax, offset: false,
            border: { display: false },
            grid: { drawOnChartArea: false, tickLength: 4, tickColor: AXISBLUE, lineWidth: 1.2 },
            afterBuildTicks: setTicks(recombTicks),
            afterFit: fixedWidth(p.rightAxis),
            ticks: { padding: 6, color: AXISBLUE, font: { size: 8.5 }, callback: v => String(v) },
            title: { display: true, text: 'Recombination rate (cM/Mb)', color: AXISBLUE, font: { size: 8.2 }, padding: 0 }
        }
    }, { left: p.left, top: 485.7, right: p.right, bottom: p.mainBottom, leftAxis: p.leftAxis, rightAxis: p.rightAxis },
       { locus: { lead: p.lead, leadX: p.leadX[0] } });

    addChart('scatter', [
        { type: 'line', data: segments(p.geneStart, p.geneEnd, p.geneRows), borderColor: '#1a1acc', borderWidth: 1, pointRadius: 0, spanGaps: false },
        { type: 'line', data: segments(p.exonStart, p.exonEnd, p.exonRows), borderColor: '#1a1acc', borderWidth: 3.6, pointRadius: 0, spanGaps: false }
    ], {
        x: tickAxis({
            type: 'linear', min: p.xMin, max: p.xMax,
            afterBuildTicks: setTicks(p.xTicks),
            afterFit: fixedHeight(31.5),
            ticks: { autoSkip: false, maxRotation: 0, padding: 7, color: '#444', font: { size: 8.5 }, callback: (v, i) => p.xLabels[i] },
            title: { display: true, text: p.xTitle, color: '#444', font: { size: 8.2 }, padding: 0 }
        }),
        y: { type: 'linear', display: false, reverse: true, min: p.geneYMin, max: p.geneYMax }
    }, { left: p.left, top: p.geneTop, right: p.right, bottom: 731.3, bottomAxis: 31.5 },
       { frame: { color: '#777', width: 1.3 }, geneNames: { names: p.geneNames, rows: p.geneRows, at: p.geneLabelAt, strand: p.geneStrand } });
}

locusPanel({
    left: 73, right: 466.3, mainBottom: 674.3, geneTop: 684.3, leftAxis: 35.4, rightAxis: 35,
    xMin: 203.7817, xMax: 204.582, yMin: -0.5, yMax: 10.48, rMin: -5, rMax: 104.8,
    lead: bLead, leadX: bLeadX, leadY: bLeadY, orangeX: bOrangeX, orangeY: bOrangeY, greenX: bGreenX, greenY: bGreenY,
    lightX: bLightX, lightY: bLightY, greyX: bGreyX, greyY: bGreyY, navyX: bNavyX, navyY: bNavyY,
    recombX: bRecombX, recombY: bRecombY, rug: bRug, yTicks: bYTicks, xTicks: bXTicks, xLabels: bXLabels,
    xTitle: 'Position on chr1 (Mb)', geneYMin: -0.72, geneYMax: 2.25,
    geneNames: bGeneNames, geneRows: bGeneRows, geneStart: bGeneStart, geneEnd: bGeneEnd, geneStrand: bGeneStrand, geneLabelAt: bGeneLabelAt,
    exonStart: bExonStart, exonEnd: bExonEnd, exonRows: bExonRows
});

locusPanel({
    left: 624, right: 1017.3, mainBottom: 658.3, geneTop: 668.3, leftAxis: 34.4, rightAxis: 34,
    xMin: 113.982, xMax: 116.98, yMin: -0.63, yMax: 13.72, rMin: -5.1, rMax: 110.7,
    lead: cLead, leadX: cLeadX, leadY: cLeadY, orangeX: cOrangeX, orangeY: cOrangeY, greenX: cGreenX, greenY: cGreenY,
    lightX: cLightX, lightY: cLightY, navyX: cNavyX, navyY: cNavyY,
    recombX: cRecombBaseX, recombY: cRecombBaseY, spikeX: cSpikeX, spikeY: cSpikeY, rug: cRug, yTicks: cYTicks, xTicks: cXTicks, xLabels: cXLabels,
    xTitle: 'Position on chrX (Mb)', geneYMin: -0.72, geneYMax: 3.25,
    geneNames: cGeneNames, geneRows: cGeneRows, geneStart: cGeneStart, geneEnd: cGeneEnd, geneStrand: cGeneStrand, geneLabelAt: cGeneLabelAt,
    exonStart: cExonStart, exonEnd: cExonEnd, exonRows: cExonRows
});
</script>
</body>
</html>
